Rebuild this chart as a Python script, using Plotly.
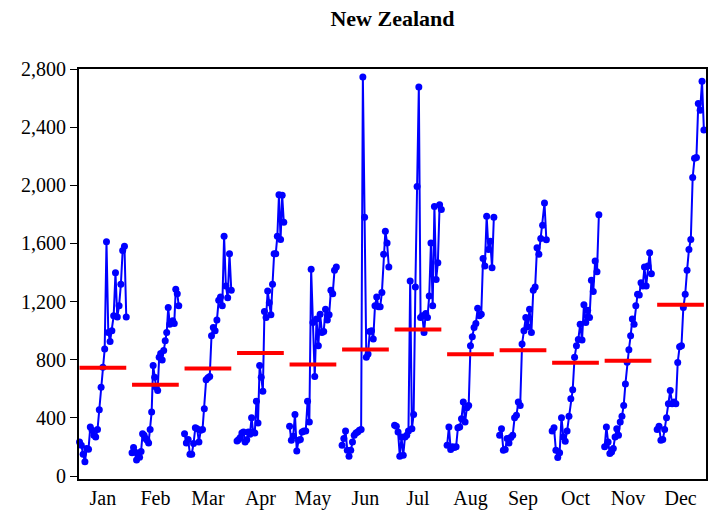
import plotly.graph_objects as go

# Monthly values, one list per calendar month (oldest year first)
months = ["Jan", "Feb", "Mar", "Apr", "May", "Jun",
          "Jul", "Aug", "Sep", "Oct", "Nov", "Dec"]

jan = [235, 212, 150, 98, 190, 185, 338, 315, 281, 269, 320, 456, 611, 748,
       874, 1611, 988, 926, 1000, 1102, 1399, 1095, 1171, 1319, 1552, 1581, 1095]
feb = [160, 196, 166, 110, 144, 130, 170, 292, 281, 258, 246, 228, 320, 440,
       760, 680, 611, 589, 817, 844, 799, 863, 931, 988, 1159, 1045, 1057,
       1068, 1049, 1285, 1255, 1171]
mar = [292, 228, 251, 150, 150, 224, 333, 326, 235, 315, 320, 463, 662, 676,
       685, 965, 1022, 999, 1073, 1210, 1232, 1171, 1650, 1308, 1227, 1529, 1278]
apr = [242, 251, 265, 297, 303, 235, 250, 303, 288, 402, 303, 297, 515, 365,
       760, 680, 584, 1132, 1091, 1273, 1193, 1109, 1319, 1529, 1529, 1650,
       1935, 1627, 1931, 1746]
may = [342, 246, 274, 424, 173, 246, 251, 303, 310, 310, 515, 372, 1422, 1057,
       685, 1080, 897, 1114, 988, 995, 1148, 1073, 1109, 1278, 1255, 1415, 1438]
jun = [212, 258, 310, 178, 137, 178, 235, 281, 297, 303, 315, 320, 2745, 1780,
       817, 840, 995, 999, 943, 1171, 1232, 1164, 1164, 1262, 1525, 1684, 1604,
       1438]
jul = [349, 342, 303, 137, 269, 144, 269, 281, 310, 1342, 326, 424, 1301, 1992,
       2677, 1091, 1102, 988, 1118, 1091, 1239, 1604, 1171, 1855, 1353, 1467,
       1867, 1833]
aug = [212, 338, 183, 201, 196, 201, 333, 338, 395, 509, 372, 470, 486, 897,
       958, 1022, 1049, 1155, 1102, 1114, 1497, 1445, 1787, 1559, 1616, 1433,
       1780]
sep = [281, 326, 178, 183, 258, 228, 265, 281, 402, 418, 509, 486, 908, 999,
       1091, 1027, 1148, 988, 1278, 1301, 1570, 1525, 1634, 1725, 1878, 1625]
oct_ = [310, 333, 178, 128, 160, 402, 269, 240, 310, 411, 532, 594, 817, 897,
        940, 1045, 936, 1178, 1057, 1141, 1091, 1347, 1269, 1479, 1405, 1798]
nov = [201, 338, 235, 155, 166, 190, 269, 326, 281, 372, 411, 486, 634, 783,
       869, 965, 1080, 1045, 1171, 1251, 1246, 1330, 1308, 1438, 1308, 1445,
       1536, 1392]
dec = [320, 342, 246, 251, 320, 402, 498, 589, 498, 509, 498, 782, 890, 897,
       1159, 1251, 1415, 1559, 1627, 2054, 2186, 2191, 2562, 2517, 2716, 2380]

series = [jan, feb, mar, apr, may, jun, jul, aug, sep, oct_, nov, dec]
y_ticks = [0, 400, 800, 1200, 1600, 2000, 2400, 2800]

HALF = 0.445  # half-width of each month's panel, in category units

fig = go.Figure()
for i, vals in enumerate(series):
    n = len(vals)
    xs = [i - HALF + 2 * HALF * k / (n - 1) for k in range(n)]
    fig.add_trace(go.Scatter(
        x=xs, y=vals, mode="lines+markers",
        line=dict(color="#0000FF", width=2),
        marker=dict(color="#0000FF", size=7),
        showlegend=False, cliponaxis=False, hoverinfo="y",
    ))
    mean = sum(vals) / n
    fig.add_trace(go.Scatter(
        x=[i - HALF, i + HALF], y=[mean, mean], mode="lines",
        line=dict(color="#FF0000", width=4),
        showlegend=False, hoverinfo="y",
    ))

serif = "Liberation Serif, Times New Roman, serif"

fig.update_layout(
    width=710, height=515,
    margin=dict(l=79, r=2, t=69, b=36),
    paper_bgcolor="white", plot_bgcolor="white",
    title=dict(
        text="<b>New Zealand</b>",
        font=dict(family=serif, size=22, color="black"),
        x=0.5, xref="paper", xanchor="center",
        y=1 - 18 / 515, yref="container", yanchor="middle",
    ),
    font=dict(family=serif, size=20, color="black"),
)

fig.update_xaxes(
    range=[-0.455, 11.485],
    tickmode="array", tickvals=list(range(12)), ticktext=months,
    ticks="", showgrid=False, zeroline=False,
    showline=True, linecolor="black", linewidth=2, mirror=True,
    tickfont=dict(family=serif, size=20, color="black"),
)
fig.update_yaxes(
    range=[-20, 2800],
    tickmode="array", tickvals=y_ticks,
    ticktext=[f"{v:,}" for v in y_ticks],
    ticks="outside", ticklen=7, tickwidth=1, tickcolor="black",
    showgrid=False, zeroline=False,
    showline=True, linecolor="black", linewidth=2, mirror=True,
    tickfont=dict(family=serif, size=20, color="black"),
)

fig.write_html("out.html")
